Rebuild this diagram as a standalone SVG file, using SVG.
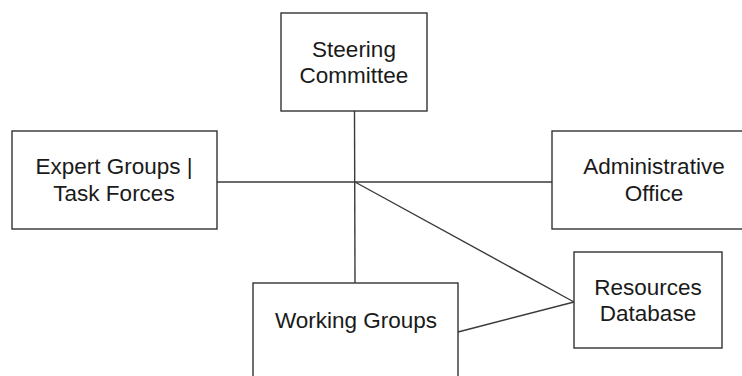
<svg xmlns="http://www.w3.org/2000/svg" width="742" height="376" viewBox="0 0 742 376">
<style>
.box{fill:#fff;stroke:#333;stroke-width:1.4}
.lbl{font-family:"Liberation Sans",Arial,sans-serif;font-size:22.5px;fill:#1a1a1a;text-anchor:middle}
.edge{fill:none;stroke:#3a3a3a;stroke-width:1.4}
</style>
<rect width="742" height="376" fill="#fff"/>
<g id="connectors">
<line class="edge" x1="354.5" y1="111" x2="355" y2="283"/>
<line class="edge" x1="217" y1="182" x2="552" y2="182"/>
<line class="edge" x1="355" y1="182" x2="574" y2="302"/>
<line class="edge" x1="574" y1="302" x2="458" y2="332"/>
</g>
<g id="steering">
<rect class="box" x="281" y="13" width="146" height="98"/>
<text class="lbl" x="354" y="57">Steering</text>
<text class="lbl" x="354" y="83">Committee</text>
</g>
<g id="expert">
<rect class="box" x="12" y="131" width="205" height="98"/>
<text class="lbl" x="114" y="174">Expert Groups |</text>
<text class="lbl" x="114" y="201">Task Forces</text>
</g>
<g id="admin">
<rect class="box" x="552" y="131" width="205" height="98"/>
<text class="lbl" x="654" y="174">Administrative</text>
<text class="lbl" x="654" y="201">Office</text>
</g>
<g id="working">
<rect class="box" x="253" y="283" width="205" height="98"/>
<text class="lbl" x="356" y="328">Working Groups</text>
</g>
<g id="resources">
<rect class="box" x="574" y="252" width="148" height="96"/>
<text class="lbl" x="648" y="295">Resources</text>
<text class="lbl" x="648" y="321">Database</text>
</g>
</svg>
